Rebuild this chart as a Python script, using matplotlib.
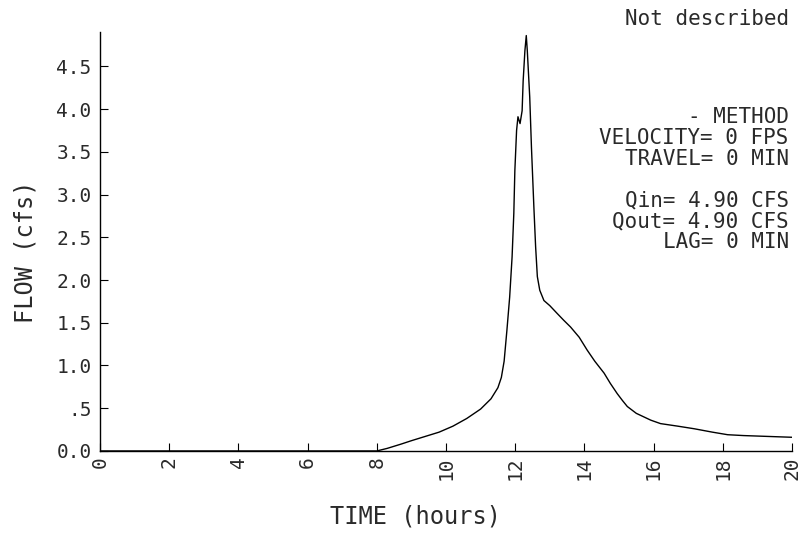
import matplotlib
matplotlib.use("Agg")
import matplotlib.pyplot as plt

# Outflow hydrograph: flow (cfs) against time (hours)
time_hours = [0.0, 8.0, 8.3, 8.7, 9.0, 9.4, 9.8, 10.2, 10.6, 11.0, 11.3, 11.5,
              11.6, 11.68, 11.76, 11.84, 11.91, 11.96, 11.99, 12.04, 12.08,
              12.14, 12.2, 12.23, 12.28, 12.32, 12.35, 12.42, 12.47, 12.54,
              12.59, 12.64, 12.71, 12.83, 13.0, 13.21, 13.4, 13.6, 13.85, 14.08,
              14.3, 14.57, 14.75, 14.95, 15.1, 15.24, 15.5, 15.92, 16.2, 16.7,
              17.17, 17.7, 18.14, 18.6, 19.3, 20.0]
flow_cfs = [0.0, 0.0, 0.03, 0.08, 0.12, 0.17, 0.22, 0.29, 0.38, 0.49, 0.61, 0.74,
            0.86, 1.05, 1.41, 1.80, 2.27, 2.78, 3.28, 3.75, 3.91,
            3.83, 3.98, 4.33, 4.68, 4.86, 4.68, 4.14, 3.55, 2.85,
            2.39, 2.04, 1.88, 1.76, 1.70, 1.61, 1.53, 1.45, 1.33, 1.18,
            1.05, 0.91, 0.79, 0.67, 0.59, 0.52, 0.44, 0.36, 0.32, 0.29,
            0.26, 0.22, 0.19, 0.18, 0.17, 0.16]

x_ticks = [0, 2, 4, 6, 8, 10, 12, 14, 16, 18, 20]
x_tick_labels = ["0", "2", "4", "6", "8", "10", "12", "14", "16", "18", "20"]
y_ticks = [0.0, 0.5, 1.0, 1.5, 2.0, 2.5, 3.0, 3.5, 4.0, 4.5]
y_tick_labels = ["0.0", ".5", "1.0", "1.5", "2.0", "2.5", "3.0", "3.5", "4.0", "4.5"]

info_lines = ["- METHOD", "VELOCITY= 0 FPS", "TRAVEL= 0 MIN", "",
              "Qin= 4.90 CFS", "Qout= 4.90 CFS", "LAG= 0 MIN"]

FONT = "DejaVu Sans Mono"
INK = "#2a2a2a"
plt.rcParams["font.family"] = [FONT]

fig = plt.figure(figsize=(8.0, 5.54), dpi=100)
ax = fig.add_axes([0.125, 0.186, 0.865, 0.756])

ax.plot(time_hours, flow_cfs, color="black", linewidth=1.0)

ax.set_xlim(0, 20)
ax.set_ylim(0, 4.9)
ax.spines["top"].set_visible(False)
ax.spines["right"].set_visible(False)
for s in ("left", "bottom"):
    ax.spines[s].set_linewidth(1.0)
    ax.spines[s].set_color("black")

ax.set_xticks(x_ticks)
ax.set_xticklabels(x_tick_labels, rotation=90, fontsize=14, color=INK)
ax.set_yticks(y_ticks)
ax.set_yticklabels(y_tick_labels, fontsize=14, color=INK)
ax.tick_params(axis="both", direction="in", length=6, width=0.8)
ax.tick_params(axis="x", pad=4)
ax.tick_params(axis="y", pad=6)

fig.text(0.519, 0.068, "TIME (hours)", ha="center", va="center",
         fontsize=17, color=INK)
fig.text(0.032, 0.545, "FLOW (cfs)", ha="center", va="center",
         rotation=90, fontsize=17, color=INK)

fig.text(0.986, 0.966, "Not described", ha="right", va="center",
         fontsize=15, color=INK)

y0 = 0.788
for i, line in enumerate(info_lines):
    if line:
        fig.text(0.986, y0 - i * 0.0375, line, ha="right", va="center",
                 fontsize=15, color=INK)

fig.savefig("out.png", dpi=100)
